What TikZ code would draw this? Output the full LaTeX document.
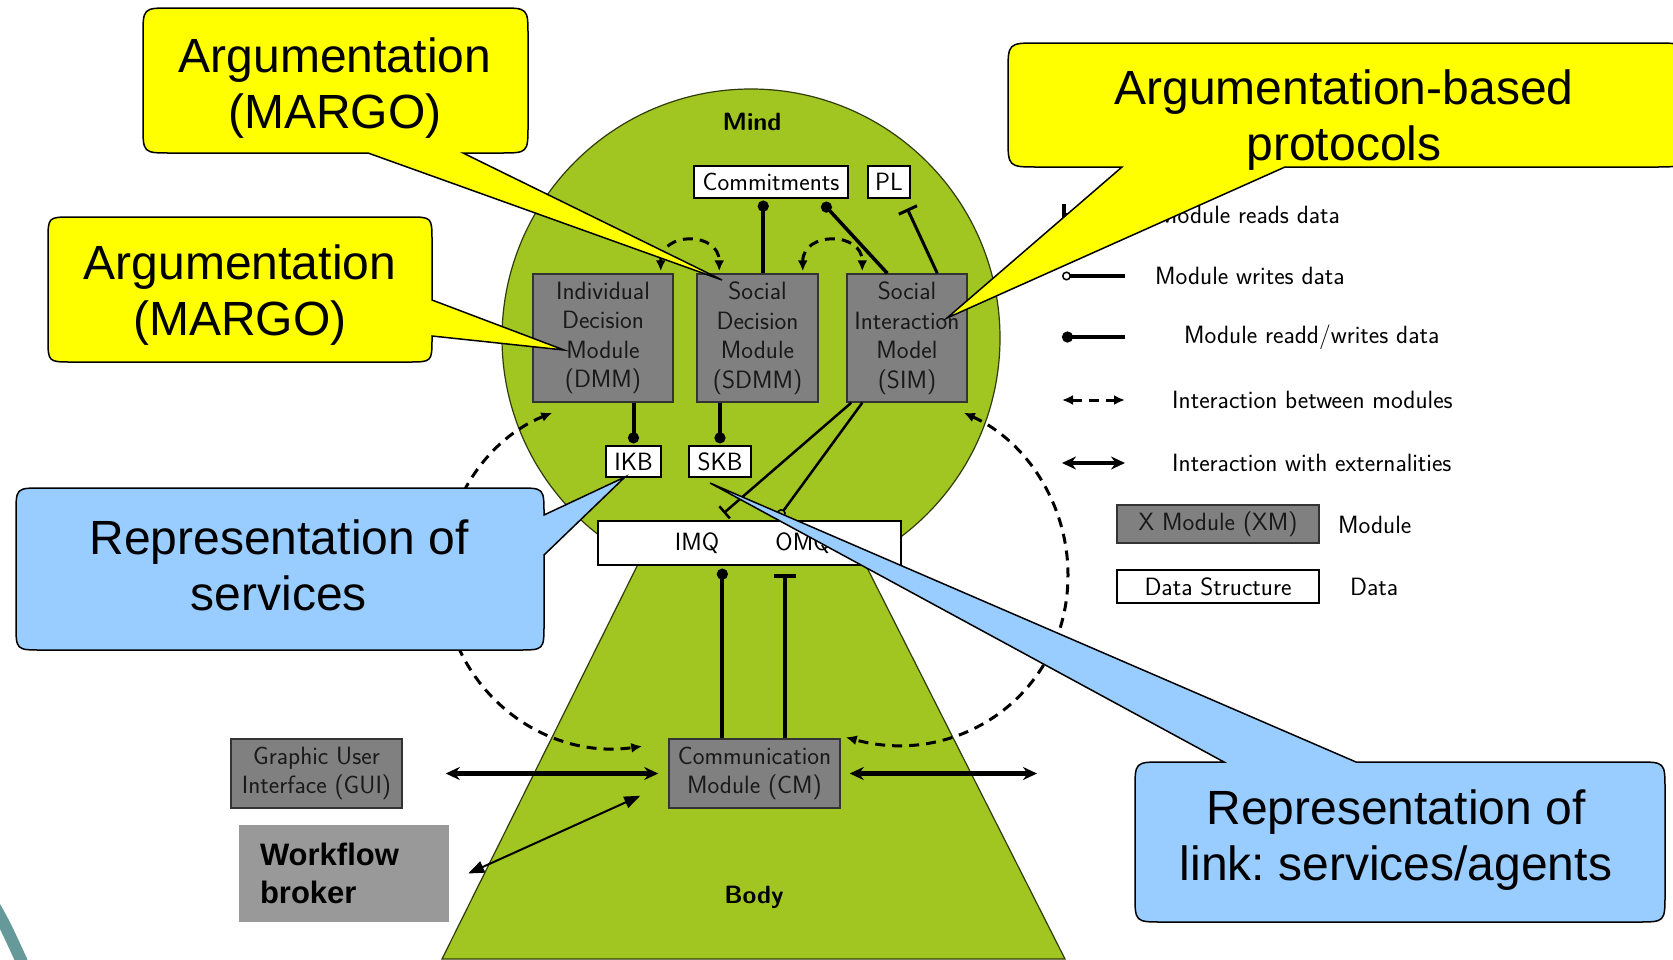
\documentclass[tikz,border=0pt]{standalone}
\usepackage{fontspec}
\newfontfamily\arialfont{Liberation Sans}
\usetikzlibrary{arrows.meta,calc}
\definecolor{mindgreen}{RGB}{161,197,33}
\definecolor{modgrey}{RGB}{128,128,128}
\definecolor{wfgrey}{RGB}{153,153,153}
\definecolor{cyellow}{RGB}{255,255,0}
\definecolor{cblue}{RGB}{153,204,255}
\definecolor{tealarc}{RGB}{102,153,153}
\newcommand\mfont{\sffamily\fontsize{25pt}{29.5pt}\selectfont}
\newcommand\cfont{\arialfont\frenchspacing\fontsize{48pt}{56pt}\selectfont}
\newcommand\wbfont{\arialfont\bfseries\fontsize{31pt}{38pt}\selectfont}
\begin{document}
\begin{tikzpicture}[x=1pt,y=-1pt,
  module/.style={draw=black!80, line width=1.5pt, fill=modgrey, font=\mfont, align=center, inner sep=0pt, text=black!90},
  datab/.style={draw=black, line width=1.3pt, fill=white, font=\mfont, inner sep=0pt},
  lgtext/.style={font=\mfont, inner sep=0pt, anchor=west},
  rwline/.style={line width=4pt, -{Circle[length=11pt,width=11pt]}},
  rdline/.style={line width=3pt, -{Bar[width=20pt]}},
  wrline/.style={line width=2.5pt, -{Circle[open,length=9pt,width=9pt,line width=1.5pt]}},
  inter/.style={line width=3pt, dash pattern=on 10pt off 7pt, {Latex[length=11pt,width=10pt]}-{Latex[length=11pt,width=10pt]}},
  ext/.style={line width=4.5pt, {Stealth[length=14pt,width=13pt]}-{Stealth[length=14pt,width=13pt]}},
  greenshape/.style={fill=mindgreen, draw=black!70!mindgreen, line width=1.2pt},
  callY/.style={fill=cyellow, draw=black, line width=1.5pt},
  callB/.style={fill=cblue, draw=black, line width=1.5pt},
  ctext/.style={font=\cfont, align=center, inner sep=0pt}
]
\useasboundingbox (0,0) rectangle (1673,959);
\fill[white] (0,0) rectangle (1673,959);

% slide decoration
\draw[line width=12pt, tealarc] (-8,902) .. controls (5,925) .. (22,962);

% Mind and Body
\path[greenshape] (751,338) circle[radius=249];
\path[greenshape] (650,540) -- (853,540) -- (1065,959) -- (442,959) -- cycle;
\node[font=\mfont\bfseries] (mind) at (752,122) {Mind};
\node[font=\mfont\bfseries] (body) at (754,897) {Body};

% modules
\node[module, minimum width=140pt, minimum height=128pt] (DMM) at (603,338) {Individual\\Decision\\Module\\(DMM)};
\node[module, minimum width=121pt, minimum height=128pt] (SDMM) at (757.5,338) {Social\\Decision\\Module\\(SDMM)};
\node[module, minimum width=120pt, minimum height=128pt] (SIM) at (907,338) {Social\\Interaction\\Model\\(SIM)};
\node[datab, minimum width=154pt, minimum height=32pt] (Com) at (771,182) {Commitments};
\node[datab, minimum width=42pt, minimum height=32pt] (PL) at (889,182) {PL};
\node[datab, minimum width=55pt, minimum height=31pt] (IKB) at (633.5,461.5) {IKB};
\node[datab, minimum width=62pt, minimum height=31pt] (SKB) at (720,461.5) {SKB};
\node[datab, minimum width=303pt, minimum height=44pt] (Q) at (749.5,543) {};
\node[font=\mfont, inner sep=0pt] (IMQ) at (697,543) {IMQ};
\node[font=\mfont, inner sep=0pt] (OMQ) at (803,543) {OMQ};
\node[module, minimum width=171pt, minimum height=69pt] (CM) at (754.5,773.5) {Communication\\Module (CM)};
\node[module, minimum width=171pt, minimum height=69pt] (GUI) at (316.5,773.5) {Graphic User\\Interface (GUI)};
\node[fill=wfgrey, minimum width=210pt, minimum height=97pt, text width=168pt, inner xsep=21pt, align=left, font=\wbfont] (WF) at (344,873.5) {Workflow\\broker};

% data connectors
\coordinate (sdT) at ($(SDMM.north west)+(67,0)$);
\draw[rwline, shorten >=2pt] (sdT) -- (sdT |- Com.south);
\draw[rwline, shorten >=2pt] (IKB.north |- DMM.south) -- (IKB.north);
\draw[rwline, shorten >=2pt] (SKB.north |- SDMM.south) -- (SKB.north);
\draw[rwline, line width=3.5pt, shorten >=6pt] ($(SIM.north west)+(41,0)$) -- ($(Com.south east)+(-30,0)$);
\draw[rdline, shorten >=11pt] ($(SIM.north west)+(91,0)$) -- ($(PL.south east)+(-8,0)$);
\draw[line width=2.5pt, -{Bar[width=16pt]}, shorten >=11pt] ($(SIM.south west)+(5,0)$) -- ($(Q.north west)+(118,0)$);
\draw[wrline, shorten >=4pt] ($(SIM.south west)+(16,0)$) -- ($(Q.north west)+(179,0)$);
\coordinate (q1) at ($(Q.south west)+(125,0)$);
\coordinate (q2) at ($(Q.south west)+(188,0)$);
\draw[rwline, shorten >=3pt] (q1 |- CM.north) -- (q1);
\draw[line width=4pt, -{Bar[width=22pt]}, shorten >=8pt] (q2 |- CM.north) -- (q2);

% interactions between modules
\draw[inter] ($(DMM.north east)+(-13,-2)$) .. controls +(0,-40) and +(0,-40) .. ($(SDMM.north west)+(23,-2)$);
\draw[inter] ($(SDMM.north east)+(-16,-2)$) .. controls +(0,-40) and +(0,-40) .. ($(SIM.north west)+(16,-2)$);
\coordinate (bl1) at ($(DMM.south west)+(20,10)$);
\coordinate (bl3) at ($(CM.north west)+(-26,8)$);
\draw[inter] (bl1) .. controls (486.7,439.3) and (443,503.3) .. (443,575) .. controls (443,682) and (537,761) .. (bl3);
\coordinate (br1) at ($(SIM.south east)+(-4,10)$);
\coordinate (br3) at ($(CM.north east)+(5,-1)$);
\draw[inter] (br1) .. controls (1026.8,441.3) and (1068,504.8) .. (1068,575) .. controls (1068,693.1) and (959.2,768.2) .. (br3);

% externalities
\coordinate (extR) at (1037,773.5);
\draw[ext] ($(GUI.east)+(43,0)$) -- ($(CM.west)+(-10,0)$);
\draw[ext] ($(CM.east)+(9,0)$) -- (extR);
\draw[line width=2pt, {Triangle[length=16pt,width=12pt]}-{Triangle[length=16pt,width=12pt]}] ($(WF.east)+(19,0)$) -- ($(CM.south west)+(-28,-13)$);

% legend
\coordinate (L1a) at (1062,215); \coordinate (L1b) at (1125,215);
\coordinate (L2a) at (1062,276); \coordinate (L2b) at (1125,276);
\coordinate (L3a) at (1062,337); \coordinate (L3b) at (1125,337);
\coordinate (L4a) at (1062,400); \coordinate (L4b) at (1125,400);
\coordinate (L5a) at (1062,463); \coordinate (L5b) at (1125,463);
\draw[line width=4pt, -{Bar[width=22pt]}] (L1b) -- (L1a);
\draw[line width=4pt, -{Circle[open,length=9pt,width=9pt,line width=1.5pt]}] (L2b) -- (L2a);
\draw[rwline] (L3b) -- (L3a);
\draw[inter] (L4a) -- (L4b);
\draw[ext] (L5a) -- (L5b);
\node[lgtext] (t1) at (1157,215) {Module reads data};
\node[lgtext] (t2) at (1155,276) {Module writes data};
\node[lgtext] (t3) at (1184,337) {Module readd/writes data};
\node[lgtext] (t4) at (1172,400) {Interaction between modules};
\node[lgtext] (t5) at (1172,463) {Interaction with externalities};
\node[module, minimum width=202pt, minimum height=38pt] (XM) at (1218,524) {X Module (XM)};
\node[lgtext] (t6) at (1338,525) {Module};
\node[datab, minimum width=202pt, minimum height=33pt] (DS) at (1218,586.5) {Data Structure};
\node[lgtext] (t7) at (1350,587) {Data};

% callouts
\path[callY] (171,8) -- (500,8) .. controls (528,8) .. (528,36) -- (528,125) .. controls (528,153) .. (500,153) -- (463,153) -- (722,280) -- (368,153) -- (171,153) .. controls (143,153) .. (143,125) -- (143,36) .. controls (143,8) .. (171,8) -- cycle;
\path[callY] (72,217) -- (408,217) .. controls (432,217) .. (432,241) -- (432,300) -- (564,350) -- (432,336) -- (432,338) .. controls (432,362) .. (408,362) -- (72,362) .. controls (48,362) .. (48,338) -- (48,241) .. controls (48,217) .. (72,217) -- cycle;
\path[callY] (1038,43) -- (1655,43) .. controls (1685,43) .. (1685,73) -- (1685,137) .. controls (1685,167) .. (1655,167) -- (1285,167) -- (947,318) -- (1122,167) -- (1038,167) .. controls (1008,167) .. (1008,137) -- (1008,73) .. controls (1008,43) .. (1038,43) -- cycle;
\path[callB] (42,488) -- (518,488) .. controls (544,488) .. (544,514) -- (544,515) -- (625,477) -- (544,555) -- (544,624) .. controls (544,650) .. (518,650) -- (42,650) .. controls (16,650) .. (16,624) -- (16,514) .. controls (16,488) .. (42,488) -- cycle;
\path[callB] (1163,762) -- (1224,762) -- (710,483) -- (1356,762) -- (1637,762) .. controls (1665,762) .. (1665,790) -- (1665,894) .. controls (1665,922) .. (1637,922) -- (1163,922) .. controls (1135,922) .. (1135,894) -- (1135,790) .. controls (1135,762) .. (1163,762) -- cycle;
\node[ctext] (ct1) at (335,88) {Argumentation\\(MARGO)};
\node[ctext] (ct2) at (240,295) {Argumentation\\(MARGO)};
\node[ctext] (ct3) at (1344,120) {Argumentation-based\\protocols};
\node[ctext] (ct4) at (279,565) {Representation of\\services};
\node[ctext] (ct5) at (1396,840) {Representation of\\link: services/agents};
\end{tikzpicture}
\end{document}
